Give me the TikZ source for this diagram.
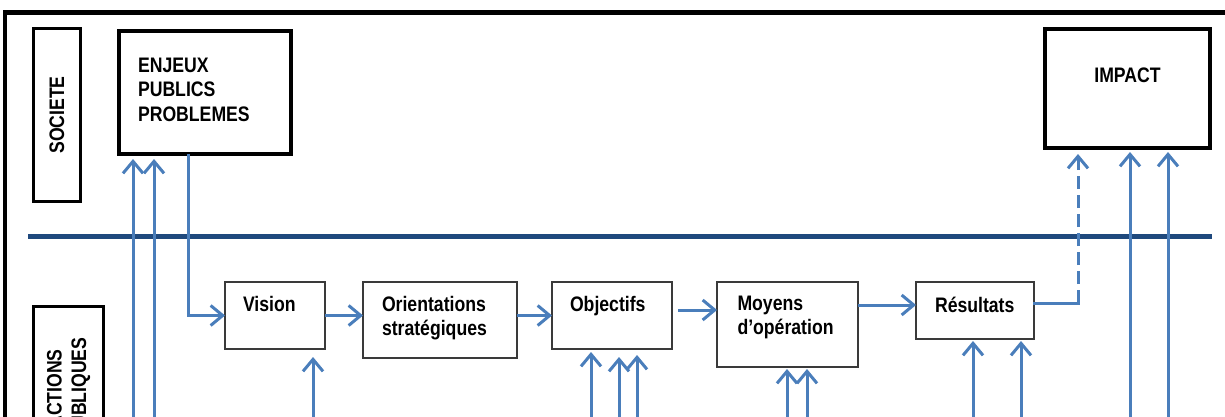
\documentclass[tikz,border=0pt]{standalone}
\usepackage{fontspec}
\setmainfont{Liberation Sans}[FakeStretch=0.84]
\usetikzlibrary{arrows.meta,calc}
\definecolor{arrowblue}{HTML}{4A7EBB}
\definecolor{darkblue}{HTML}{1F497D}
\definecolor{boxgray}{HTML}{3A3A3A}
\tikzset{
  txt/.style={font=\fontsize{21}{24.5}\selectfont\bfseries},
  bigbox/.style={txt, draw=black, line width=4pt, outer sep=0pt, anchor=north west},
  smallbox/.style={txt, draw=boxgray, line width=1.3pt, outer sep=0pt, anchor=north west},
  sidebox/.style={txt, draw=black, line width=3pt, outer sep=0pt, inner sep=0pt, rotate=90, align=center},
  link/.style={draw=arrowblue, line width=3pt},
  arr/.style={link, -{Straight Barb[length=12pt,width=20pt]}},
  divider/.style={draw=darkblue, line width=5pt},
  frame/.style={draw=black, line width=4.5pt},
}
\begin{document}
\begin{tikzpicture}[x=1pt,y=-1pt]
\useasboundingbox (0,0) rectangle (1225,417);
\clip (0,0) rectangle (1225,417);

% outer frame
\draw[frame] (5,12.5) rectangle (1245,520);

% divider
\coordinate (dl) at (28,236);
\coordinate (dr) at (1212,236);
\draw[divider] (dl) -- (dr);

% side labels
\node[sidebox, minimum width=173pt, minimum height=47pt] (societe) at (57,115) {SOCIETE};
\node[sidebox, minimum width=165pt, minimum height=70pt] (actions) at (68.5,389) {ACTIONS\\PUBLIQUES};

% big boxes
\node[bigbox, inner xsep=19pt, inner ysep=27pt] (enjeux) at (119,31)
  {\parbox[t][69pt][t]{134pt}{\raggedright ENJEUX\\PUBLICS\\PROBLEMES}};
\node[bigbox, inner xsep=10pt, inner ysep=39pt] (impact) at (1045,29)
  {\parbox[t][41pt][t]{145pt}{\centering IMPACT}};

% small boxes
\node[smallbox, inner xsep=18pt, inner ysep=14pt] (vision) at (225,282)
  {\parbox[t][39pt][t]{64pt}{\raggedright Vision}};
\node[smallbox, inner xsep=19pt, inner ysep=14pt] (orient) at (363,282)
  {\parbox[t][48pt][t]{116pt}{\raggedright Orientations\\stratégiques}};
\node[smallbox, inner xsep=18pt, inner ysep=14pt] (objectifs) at (552,282)
  {\parbox[t][39pt][t]{84pt}{\raggedright Objectifs}};
\node[smallbox, inner xsep=20.5pt, inner ysep=14pt] (moyens) at (717,282)
  {\parbox[t][57pt][t]{100pt}{\raggedright Moyens\\d’opération}};
\node[smallbox, inner xsep=19pt, inner ysep=15pt] (resultats) at (916,282)
  {\parbox[t][27pt][t]{80pt}{\raggedright Résultats}};

% chain of connectors
\draw[arr] ($(enjeux.south west)+(69,0)$) |- (vision.west);
\draw[arr] (vision.east) -- (vision.east -| orient.west);
\draw[arr] (objectifs.west -| orient.east) -- (objectifs.west);
\draw[arr] ($(objectifs.east |- 0,310)+(6,0)$) -- (moyens.west |- 0,310);
\draw[arr] (moyens.east |- 0,305) -- (resultats.west |- 0,305);
\coordinate (rc) at (1078,303);
\draw[link, line cap=rect] (resultats.east |- rc) -- (rc);
\draw[arr, dash pattern=on 13pt off 6pt, shorten >=6pt] (rc) -- (rc |- impact.south);

% arrows coming from below
\foreach \n/\x in {a1/133,a2/154,a3/313,a4/591,a5/619,a6/637,a7/787,a8/807,a9/973,a10/1021,a11/1130,a12/1168}
  {\coordinate (\n) at (\x,440);}
\draw[arr, shorten >=5pt] (a1) -- (a1 |- enjeux.south);
\draw[arr, shorten >=5pt] (a2) -- (a2 |- enjeux.south);
\draw[arr, shorten >=8pt] (a3) -- (a3 |- vision.south);
\draw[arr, shorten >=3pt] (a4) -- (a4 |- objectifs.south);
\draw[arr, shorten >=8pt] (a5) -- (a5 |- objectifs.south);
\draw[arr, shorten >=6pt] (a6) -- (a6 |- objectifs.south);
\draw[arr, shorten >=2pt] (a7) -- (a7 |- moyens.south);
\draw[arr, shorten >=2pt] (a8) -- (a8 |- moyens.south);
\draw[arr, shorten >=2pt] (a9) -- (a9 |- resultats.south);
\draw[arr, shorten >=2pt] (a10) -- (a10 |- resultats.south);
\draw[arr, shorten >=4pt] (a11) -- (a11 |- impact.south);
\draw[arr, shorten >=4pt] (a12) -- (a12 |- impact.south);
\end{tikzpicture}
\end{document}
